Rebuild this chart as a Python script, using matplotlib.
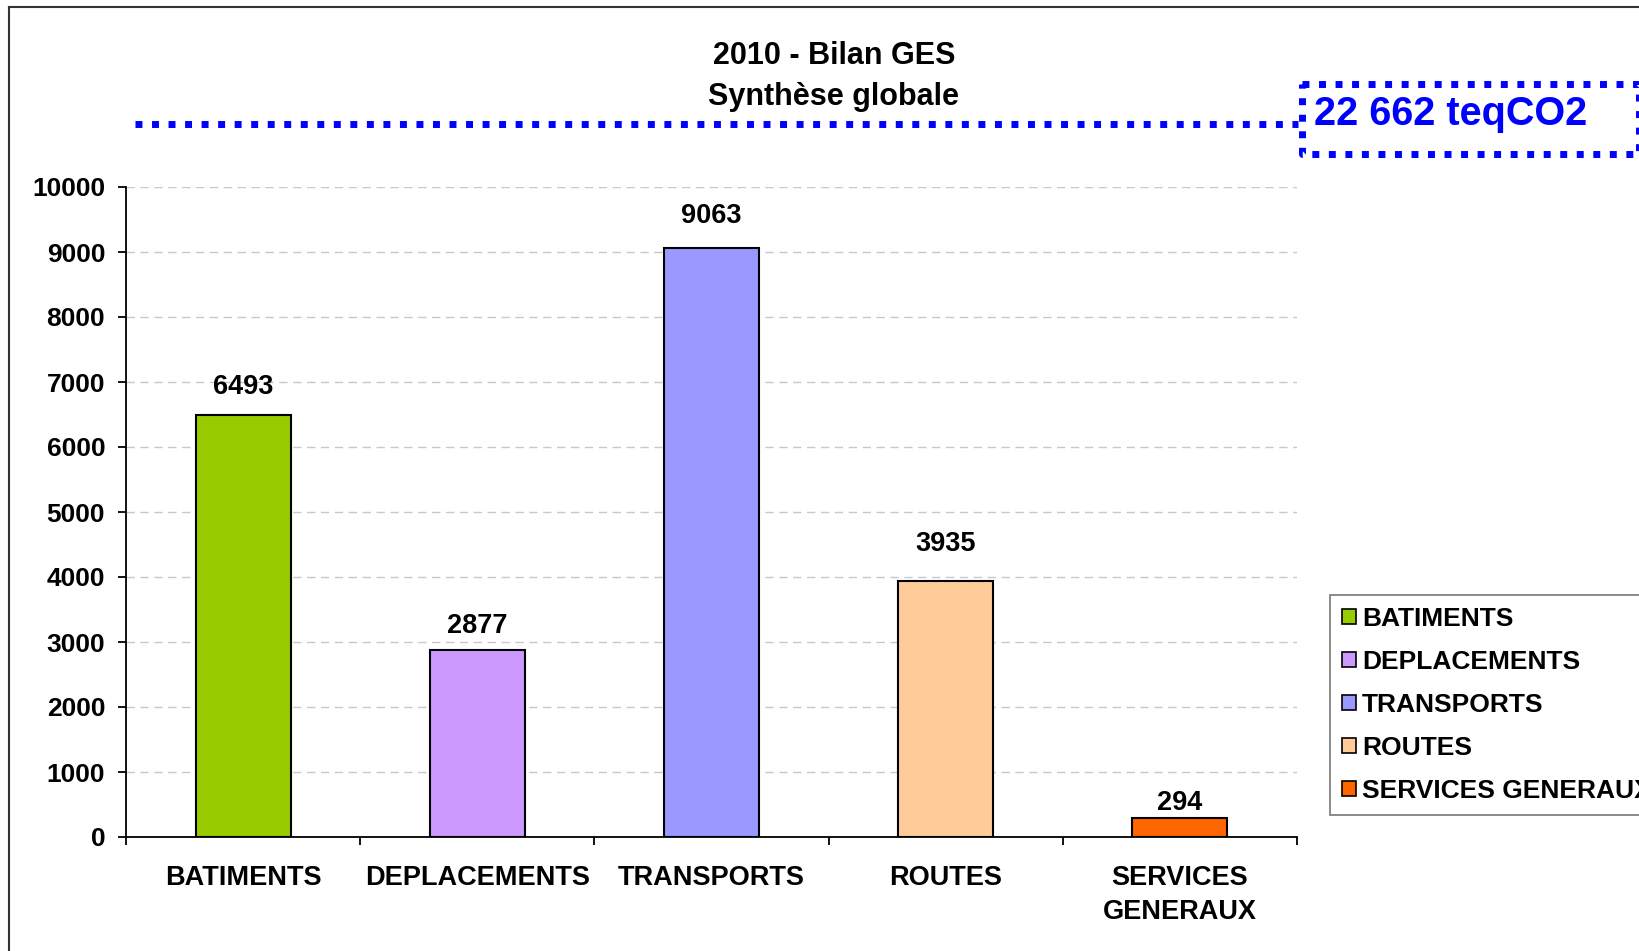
import matplotlib
matplotlib.use("Agg")
import matplotlib.pyplot as plt
from matplotlib.lines import Line2D
from matplotlib.patches import Patch
import numpy as np

plt.rcParams['font.family'] = ['Liberation Sans', 'DejaVu Sans']
plt.rcParams['font.weight'] = 'bold'

categories = ["BATIMENTS", "DEPLACEMENTS", "TRANSPORTS", "ROUTES", "SERVICES GENERAUX"]
tick_labels = ["BATIMENTS", "DEPLACEMENTS", "TRANSPORTS", "ROUTES", "SERVICES\nGENERAUX"]
values = [6493, 2877, 9063, 3935, 294]
colors = ["#99CC00", "#CC99FF", "#9999FF", "#FFCC99", "#FF6600"]
total_label = "22 662 teqCO2"
title1 = "2010 - Bilan GES"
title2 = "Synthèse globale"
# label gap above each bar (points), as in the original
label_gap = [15, 12, 18, 22, 6]

W, H = 1640, 951
fig = plt.figure(figsize=(W / 100, H / 100), dpi=100)

def fx(px):
    return px / W

def fy(py):
    return 1 - py / H

ax = fig.add_axes([fx(126), fy(837), fx(1297) - fx(126), fy(187) - fy(837)])
x = np.arange(len(values))
ax.bar(x, values, width=0.405, color=colors, edgecolor="black", linewidth=1.5, zorder=3)
ax.set_xlim(-0.5, len(values) - 0.5)
ax.set_ylim(0, 10000)
ax.set_yticks(np.arange(0, 10001, 1000))
ax.yaxis.grid(True, linestyle=(0, (6, 4)), color="#C8C8C8", linewidth=1)
ax.set_axisbelow(True)
for s in ["top", "right"]:
    ax.spines[s].set_visible(False)
ax.spines["left"].set_linewidth(1.3)
ax.spines["bottom"].set_linewidth(1.3)

ax.set_xticks(x)
ax.set_xticklabels(tick_labels, fontsize=19.5, fontweight="bold", linespacing=1.4)
ax.set_xticks(np.arange(-0.5, len(values), 1), minor=True)
ax.tick_params(axis="x", which="major", length=0, pad=20.5)
ax.tick_params(axis="x", which="minor", length=6, width=1.3, direction="out")
ax.tick_params(axis="y", length=6, width=1.3, pad=9, labelsize=19)
for t in ax.get_yticklabels():
    t.set_fontweight("bold")

for xi, v, g in zip(x, values, label_gap):
    ax.annotate(str(v), (xi, v), xytext=(0, g), textcoords="offset points",
                ha="center", va="baseline", fontsize=19.5, fontweight="bold")

# titles
fig.text(fx(834), fy(56), title1, ha="center", va="center", fontsize=22, fontweight="bold")
fig.text(fx(834), fy(97), title2, ha="center", va="center", fontsize=22, fontweight="bold")

# outer frame (left and top)
fig.add_artist(Line2D([fx(9.5), fx(9.5)], [0, fy(7)], color="#333333", lw=1.5))
fig.add_artist(Line2D([fx(9.5), 1], [fy(7), fy(7)], color="#333333", lw=1.5))

# dotted line and total box
dot = dict(color="#0000FF", lw=5, linestyle=(0, (1, 1.38)), solid_capstyle="butt",
           dash_capstyle="butt")
fig.add_artist(Line2D([fx(135), fx(1298)], [fy(124), fy(124)], **dot))
fig.add_artist(Line2D([fx(1302), fx(1639), fx(1639), fx(1302), fx(1302)],
                      [fy(84), fy(84), fy(154), fy(154), fy(84)], **dot))
fig.text(fx(1314), fy(114), total_label, ha="left", va="center", fontsize=28.5,
         fontweight="bold", color="#0000FF")

handles = [Patch(facecolor=c, edgecolor="black", linewidth=1.2) for c in colors]
leg = fig.legend(handles, categories, loc="upper left", bbox_to_anchor=(fx(1330), fy(595)),
                 fontsize=19, frameon=True, fancybox=False, edgecolor="#555555",
                 handlelength=0.55, handleheight=0.55, handletextpad=0.22,
                 labelspacing=0.72, borderpad=0.45, borderaxespad=0)
leg.get_frame().set_linewidth(1.2)
for t in leg.get_texts():
    t.set_fontweight("bold")

fig.savefig("out.png", dpi=100)
